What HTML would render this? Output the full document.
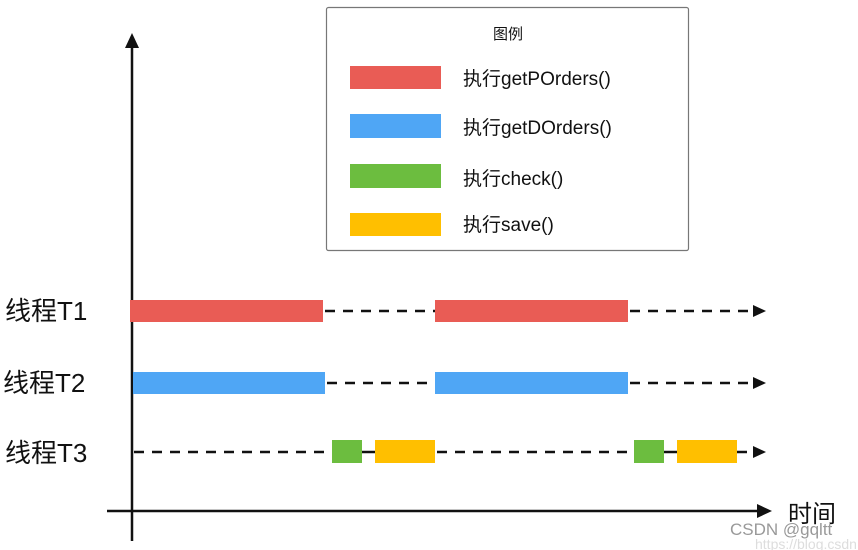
<!DOCTYPE html>
<html><head><meta charset="utf-8"><style>
html,body{margin:0;padding:0;background:#fff;width:858px;height:550px;overflow:hidden}
text{font-family:"Liberation Sans","Noto Sans CJK SC",sans-serif;fill:#111}
</style></head><body>
<svg width="858" height="550" viewBox="0 0 858 550" xmlns="http://www.w3.org/2000/svg">
<!-- legend -->
<rect x="326.5" y="7.5" width="362" height="243" rx="2" fill="#fff" stroke="#777" stroke-width="1.2"/>
<text x="508" y="39" font-size="15" text-anchor="middle">图例</text>
<rect x="350" y="66" width="91" height="23" fill="#e95c55"/>
<rect x="350" y="114" width="91" height="24" fill="#4fa6f5"/>
<rect x="350" y="164" width="91" height="24" fill="#6cbd3f"/>
<rect x="350" y="213" width="91" height="23" fill="#ffbf00"/>
<text x="463" y="85" font-size="19">执行getPOrders()</text>
<text x="463" y="134" font-size="19">执行getDOrders()</text>
<text x="463" y="185" font-size="19">执行check()</text>
<text x="463" y="231" font-size="19">执行save()</text>
<!-- axes -->
<line x1="132" y1="45" x2="132" y2="541" stroke="#111" stroke-width="2.5"/>
<polygon points="132,33 125,48 139,48" fill="#111"/>
<line x1="107" y1="511" x2="760" y2="511" stroke="#111" stroke-width="2.5"/>
<polygon points="772,511 757,504 757,518" fill="#111"/>
<text x="788" y="522" font-size="24">时间</text>
<!-- labels -->
<text x="5" y="320" font-size="26">线程T1</text>
<text x="3" y="392" font-size="26">线程T2</text>
<text x="5" y="462" font-size="26">线程T3</text>
<!-- dashed -->
<g stroke="#111" stroke-width="2.5" stroke-dasharray="10,8">
<line x1="325" y1="311" x2="435" y2="311"/>
<line x1="630" y1="311" x2="752" y2="311"/>
<line x1="327" y1="383" x2="435" y2="383"/>
<line x1="630" y1="383" x2="752" y2="383"/>
<line x1="134" y1="452" x2="332" y2="452"/>
<line x1="437" y1="452" x2="634" y2="452"/>
<line x1="737" y1="452" x2="752" y2="452"/>
</g>
<line x1="362" y1="452" x2="375" y2="452" stroke="#111" stroke-width="2.5"/>
<line x1="664" y1="452" x2="677" y2="452" stroke="#111" stroke-width="2.5"/>
<polygon points="766,311 753,305 753,317" fill="#111"/>
<polygon points="766,383 753,377 753,389" fill="#111"/>
<polygon points="766,452 753,446 753,458" fill="#111"/>
<!-- bars -->
<rect x="130" y="300" width="193" height="22" fill="#e95c55"/>
<rect x="435" y="300" width="193" height="22" fill="#e95c55"/>
<rect x="133" y="372" width="192" height="22" fill="#4fa6f5"/>
<rect x="435" y="372" width="193" height="22" fill="#4fa6f5"/>
<rect x="332" y="440" width="30" height="23" fill="#6cbd3f"/>
<rect x="375" y="440" width="60" height="23" fill="#ffbf00"/>
<rect x="634" y="440" width="30" height="23" fill="#6cbd3f"/>
<rect x="677" y="440" width="60" height="23" fill="#ffbf00"/>
<!-- watermark -->
<text x="730" y="535" font-size="17" style="fill:#999">CSDN @gqltt</text>
<text x="755" y="549" font-size="14" style="fill:#ddd">https://blog.csdn</text>
</svg>
</body></html>
